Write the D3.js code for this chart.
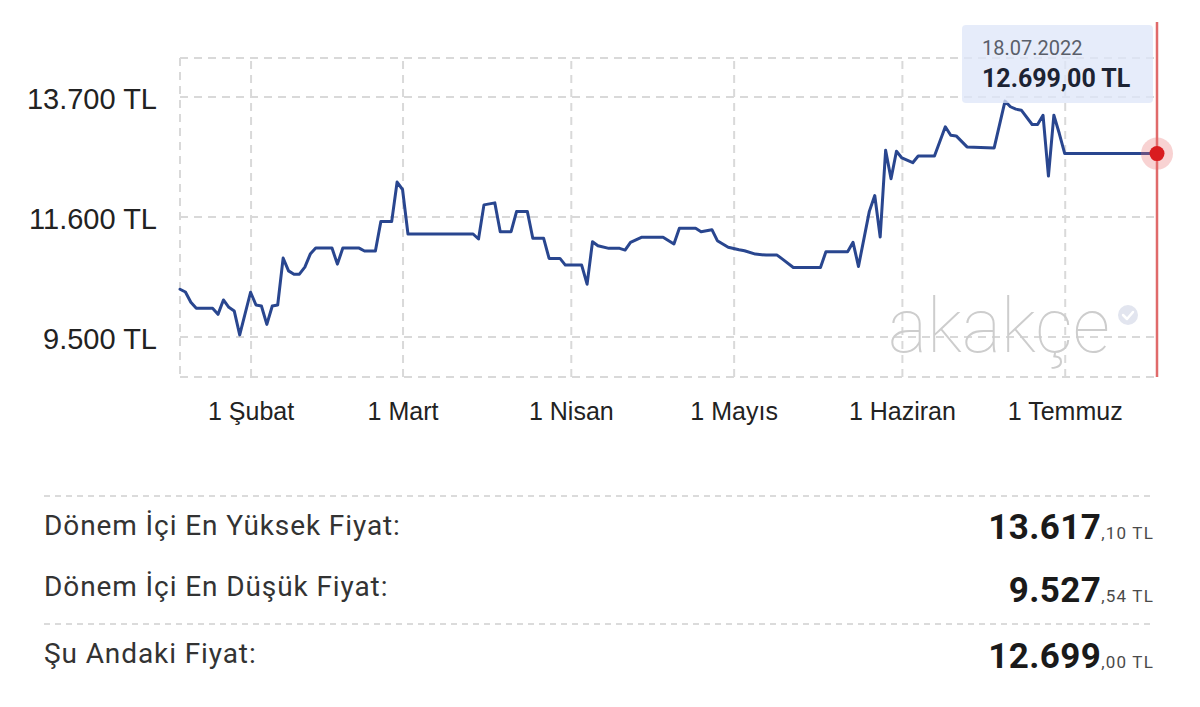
<!DOCTYPE html>
<html>
<head>
<meta charset="utf-8">
<script src="https://cdn.jsdelivr.net/npm/d3@7"></script>
<style>
body { margin: 0; background: #fff; }
</style>
</head>
<body>
<svg width="1200" height="707"></svg>
<script>
// fiyat geçmişi
var dates = [
  "2022-01-19","2022-01-20","2022-01-21","2022-01-22","2022-01-25","2022-01-26","2022-01-27","2022-01-28","2022-01-29","2022-01-30",
  "2022-02-01","2022-02-02","2022-02-03","2022-02-04","2022-02-05","2022-02-06","2022-02-07","2022-02-08","2022-02-09","2022-02-10",
  "2022-02-11","2022-02-12","2022-02-13","2022-02-16","2022-02-17","2022-02-18","2022-02-21","2022-02-22","2022-02-24","2022-02-25",
  "2022-02-27","2022-02-28","2022-03-01","2022-03-02","2022-03-14","2022-03-15","2022-03-16","2022-03-18","2022-03-19","2022-03-21",
  "2022-03-22","2022-03-24","2022-03-25","2022-03-27","2022-03-28","2022-03-30","2022-03-31","2022-04-03","2022-04-04","2022-04-05",
  "2022-04-06","2022-04-08","2022-04-10","2022-04-11","2022-04-12","2022-04-14","2022-04-18","2022-04-20","2022-04-21","2022-04-24",
  "2022-04-25","2022-04-27","2022-04-28","2022-04-30","2022-05-02","2022-05-03","2022-05-05","2022-05-07","2022-05-09","2022-05-10",
  "2022-05-12","2022-05-17","2022-05-18","2022-05-22","2022-05-23","2022-05-24","2022-05-26","2022-05-27","2022-05-28","2022-05-29",
  "2022-05-30","2022-05-31","2022-06-01","2022-06-03","2022-06-04","2022-06-07","2022-06-09","2022-06-10","2022-06-11","2022-06-13",
  "2022-06-18","2022-06-20","2022-06-21","2022-06-22","2022-06-23","2022-06-25","2022-06-26","2022-06-27","2022-06-28","2022-06-29",
  "2022-06-30","2022-07-01","2022-07-18"
];
var prices = [
  10326,10278,10097,9992,9992,9886,10138,10009,9944,9527.54,
  10273,10050,10032,9711,10032,10050,10871,10647,10589,10589,
  10712,10941,11046,11046,10765,11046,11046,10994,10994,11509,
  11509,12201,12071,11292,11292,11205,11802,11837,11333,11333,
  11684,11684,11217,11217,10865,10865,10748,10748,10414,11157,
  11087,11041,11041,11011,11147,11234,11234,11117,11393,11393,
  11333,11368,11175,11059,11016,10999,10941,10923,10923,10853,
  10707,10707,10981,10981,11147,10725,11688,11965,11240,12756,
  12259,12739,12623,12540,12658,12658,13168,13020,13009,12816,
  12798,13617.10,13519,13477,13459,13208,13208,13371,12306,13371,
  13050,12699,12699
];

// eksenler
var yTicks = [9500, 11600, 13700];
var monthTicks = ["2022-02-01","2022-03-01","2022-04-01","2022-05-01","2022-06-01","2022-07-01"];
var monthLabels = ["1 Şubat","1 Mart","1 Nisan","1 Mayıs","1 Haziran","1 Temmuz"];

// özet tablosu
var statLabels = ["Dönem İçi En Yüksek Fiyat:","Dönem İçi En Düşük Fiyat:","Şu Andaki Fiyat:"];
var statValues = [13617.10, 9527.54, 12699.00];

var tipDate = "18.07.2022";
var tipValue = 12699.00;

var svg = d3.select("svg");
var parse = d3.timeParse("%Y-%m-%d");

// türkçe sayı biçimi (13.700 / 12.699,00)
var tr = d3.formatLocale({decimal: ",", thousands: ".", grouping: [3], currency: ["", " TL"]});
var fmtInt = tr.format(",.0f");
var fmtDec = tr.format(",.2f");

var data = dates.map(function(d, i) { return {date: parse(d), price: prices[i]}; });

var x = d3.scaleTime()
  .domain([parse("2022-01-19"), parse("2022-07-18")])
  .range([180, 1157]);
var y = d3.scaleLinear()
  .domain([8790, 14372])
  .range([377, 58]);

var gridColor = "#d9d9d9";

// yatay ızgara
var gy = svg.append("g")
  .attr("transform", "translate(180,0)")
  .call(d3.axisLeft(y).tickValues(yTicks).tickSize(-(1157 - 180)).tickFormat(""));
gy.select(".domain").remove();
gy.selectAll("line").attr("stroke", gridColor).attr("stroke-width", 2).attr("stroke-dasharray", "8,6");

// dikey ızgara
var gx = svg.append("g")
  .attr("transform", "translate(0,377)")
  .call(d3.axisBottom(x).tickValues(monthTicks.map(parse)).tickSize(-(377 - 58)).tickFormat(""));
gx.select(".domain").remove();
gx.selectAll("line").attr("stroke", gridColor).attr("stroke-width", 2).attr("stroke-dasharray", "8,6");

// çerçeve
var frame = svg.append("g")
  .attr("stroke", gridColor).attr("stroke-width", 2).attr("stroke-dasharray", "8,6").attr("fill", "none");
frame.append("line").attr("x1", 180).attr("x2", 1157).attr("y1", 58).attr("y2", 58);
frame.append("line").attr("x1", 180).attr("x2", 1157).attr("y1", 377).attr("y2", 377);
frame.append("line").attr("x1", 180).attr("x2", 180).attr("y1", 58).attr("y2", 377);

// filigran
svg.append("text")
  .attr("x", 888).attr("y", 352)
  .attr("textLength", 222).attr("lengthAdjust", "spacingAndGlyphs")
  .attr("font-family", "Roboto, 'DejaVu Sans', sans-serif")
  .attr("font-weight", 100)
  .attr("font-size", 76)
  .attr("fill", "#cdcdcd")
  .text("akakçe");
svg.append("circle").attr("cx", 1128).attr("cy", 315).attr("r", 10).attr("fill", "#e2e5ef");
svg.append("path")
  .attr("d", "M1123,315 l4,4 l6,-7")
  .attr("fill", "none").attr("stroke", "#fff").attr("stroke-width", 2.5)
  .attr("stroke-linecap", "round").attr("stroke-linejoin", "round");

// fiyat çizgisi
var line = d3.line()
  .x(function(d) { return x(d.date); })
  .y(function(d) { return y(d.price); });

svg.append("path")
  .datum(data)
  .attr("d", line)
  .attr("fill", "none")
  .attr("stroke", "#29468f")
  .attr("stroke-width", 3)
  .attr("stroke-linejoin", "round")
  .attr("stroke-linecap", "round");

// y etiketleri
var yLab = svg.append("g")
  .attr("transform", "translate(157,0)")
  .call(d3.axisLeft(y).tickValues(yTicks).tickSize(0).tickPadding(0)
    .tickFormat(function(d) { return fmtInt(d) + " TL"; }));
yLab.select(".domain").remove();
yLab.attr("font-family", "'Liberation Sans', Arial, sans-serif").attr("font-size", 29);
yLab.selectAll("text").attr("fill", "#222").attr("dy", "0.4em");

// x etiketleri
var xLab = svg.append("g")
  .attr("transform", "translate(0,377)")
  .call(d3.axisBottom(x).tickValues(monthTicks.map(parse)).tickSize(0).tickPadding(25)
    .tickFormat(function(d, i) { return monthLabels[i]; }));
xLab.select(".domain").remove();
xLab.attr("font-family", "'Liberation Sans', Arial, sans-serif").attr("font-size", 25);
xLab.selectAll("text").attr("fill", "#222");

// seçili gün (son nokta)
var last = data[data.length - 1];
svg.append("line")
  .attr("x1", x(last.date)).attr("x2", x(last.date))
  .attr("y1", 22).attr("y2", 377)
  .attr("stroke", "#e06a6a").attr("stroke-width", 2.5);
svg.append("circle")
  .attr("cx", x(last.date)).attr("cy", y(last.price)).attr("r", 16)
  .attr("fill", "#e8696b").attr("fill-opacity", 0.3);
svg.append("circle")
  .attr("cx", x(last.date)).attr("cy", y(last.price)).attr("r", 7.5)
  .attr("fill", "#d91c1f");

// ipucu kutusu
svg.append("rect")
  .attr("x", 962).attr("y", 25).attr("width", 191).attr("height", 78).attr("rx", 4)
  .attr("fill", "#dde6f8").attr("fill-opacity", 0.75);
svg.append("text")
  .attr("x", 982).attr("y", 55)
  .attr("font-family", "Roboto, sans-serif").attr("font-size", 20)
  .attr("fill", "#5a5f6a")
  .text(tipDate);
svg.append("text")
  .attr("x", 982).attr("y", 87)
  .attr("font-family", "Roboto, sans-serif").attr("font-size", 25).attr("font-weight", "bold")
  .attr("fill", "#1c2333")
  .text(fmtDec(tipValue) + " TL");

// özet tablosu
var rowY = [539, 602, 668];
var labelY = [535, 596, 663];
var sepY = [496, 624];

svg.selectAll(".sep").data(sepY).enter().append("line")
  .attr("class", "sep")
  .attr("x1", 44).attr("x2", 1155)
  .attr("y1", function(d) { return d; }).attr("y2", function(d) { return d; })
  .attr("stroke", "#cfcfcf").attr("stroke-width", 1.5).attr("stroke-dasharray", "6,5");

svg.selectAll(".slabel").data(statLabels).enter().append("text")
  .attr("class", "slabel")
  .attr("x", 44).attr("y", function(d, i) { return labelY[i]; })
  .attr("font-family", "Roboto, sans-serif").attr("font-size", 28)
  .attr("letter-spacing", 0.9)
  .attr("fill", "#333")
  .text(function(d) { return d; });

var sv = svg.selectAll(".sval").data(statValues).enter().append("text")
  .attr("class", "sval")
  .attr("x", 1154).attr("y", function(d, i) { return rowY[i]; })
  .attr("text-anchor", "end")
  .attr("font-family", "Roboto, sans-serif")
  .attr("fill", "#1a1a1a");
sv.append("tspan")
  .attr("font-size", 35).attr("font-weight", "bold").attr("letter-spacing", 0.4)
  .text(function(d) { return fmtInt(Math.floor(d)); });
sv.append("tspan")
  .attr("font-size", 17).attr("fill", "#4a4a4a").attr("letter-spacing", 1.2)
  .text(function(d) { return fmtDec(d).slice(-3) + " TL"; });
</script>
</body>
</html>
